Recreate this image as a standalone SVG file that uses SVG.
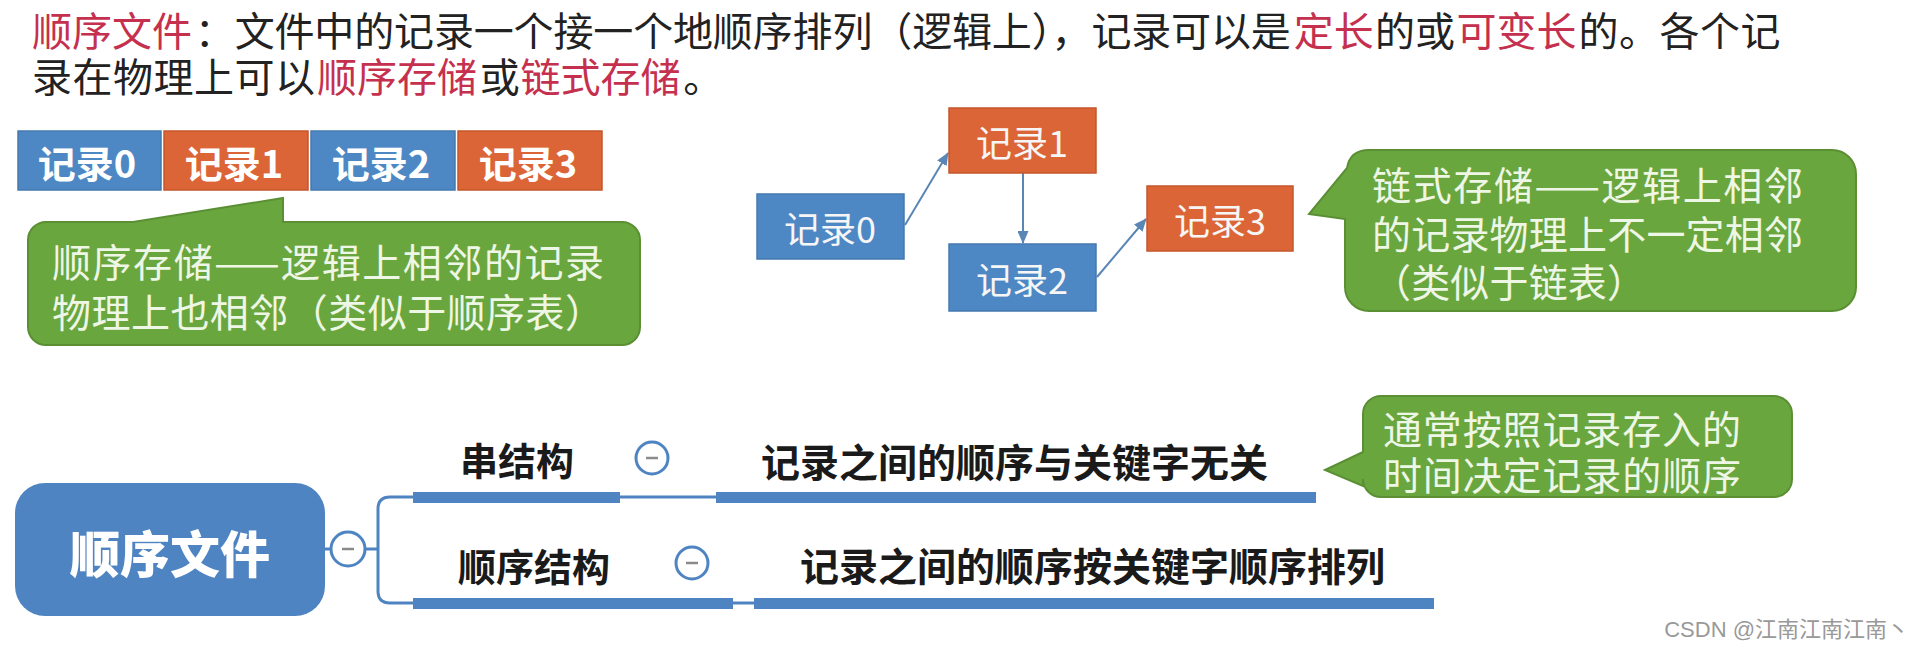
<svg xmlns="http://www.w3.org/2000/svg" width="1925" height="649" viewBox="0 0 1925 649">
<style>
text{font-family:"Noto Sans CJK SC","Noto Sans",sans-serif;dominant-baseline:central}
.hdr{font-size:40px;fill:#222}
.red{fill:#C5304E}
.rec{font-size:38px;font-weight:700;fill:#fff;text-anchor:middle}
.lrec{font-size:36px;fill:#f6f6f6;text-anchor:middle}
.blue{fill:#4E88C4;stroke:#4579AF;stroke-width:1.5}
.orange{fill:#DC6537;stroke:#C4572D;stroke-width:1.5}
.bubble{fill:#6AA63E;stroke:#5A8F33;stroke-width:2}
.btxt{font-size:39px;fill:#EEF6E6}
.mm{fill:none;stroke:#4F84C2;stroke-width:3}
.bar{fill:#4F84C2}
.tog{fill:#fff;stroke:#4F84C2;stroke-width:3}
.minus{stroke:#8a8a8a;stroke-width:2.5}
.topic{font-size:38px;font-weight:700;fill:#1a1a1a}
.arr{fill:none;stroke:#5A86B5;stroke-width:2}
</style>
<defs>
<marker id="ah" markerWidth="13" markerHeight="11" refX="12" refY="5.5" orient="auto" markerUnits="userSpaceOnUse">
<path d="M0,0 L13,5.5 L0,11 Z" fill="#5A86B5"/>
</marker>
</defs>

<g id="header">
<text class="hdr red" x="32" y="29" textLength="160" lengthAdjust="spacing">顺序文件</text>
<text class="hdr" x="194.8" y="29" textLength="1096" lengthAdjust="spacing">：文件中的记录一个接一个地顺序排列（逻辑上），记录可以是</text>
<text class="hdr red" x="1293.7" y="29" textLength="80" lengthAdjust="spacing">定长</text>
<text class="hdr" x="1375.1" y="29" textLength="80" lengthAdjust="spacing">的或</text>
<text class="hdr red" x="1456.5" y="29" textLength="120" lengthAdjust="spacing">可变长</text>
<text class="hdr" x="1578.6" y="29" textLength="202" lengthAdjust="spacing">的。各个记</text>
<text class="hdr" x="32" y="75" textLength="283" lengthAdjust="spacing">录在物理上可以</text>
<text class="hdr red" x="316.9" y="75" textLength="160" lengthAdjust="spacing">顺序存储</text>
<text class="hdr" x="479.7" y="75">或</text>
<text class="hdr red" x="520.4" y="75" textLength="160" lengthAdjust="spacing">链式存储</text>
<text class="hdr" x="683.2" y="75">。</text>
</g>

<g id="seq-records">
<g id="seq-rec0"><rect class="blue" x="18" y="131" width="143" height="59"/><text class="rec" x="87" y="161">记录0</text></g>
<g id="seq-rec1"><rect class="orange" x="164" y="131" width="144" height="59"/><text class="rec" x="234" y="161">记录1</text></g>
<g id="seq-rec2"><rect class="blue" x="311" y="131" width="144" height="59"/><text class="rec" x="381" y="161">记录2</text></g>
<g id="seq-rec3"><rect class="orange" x="458" y="131" width="144" height="59"/><text class="rec" x="528" y="161">记录3</text></g>
</g>

<g id="seq-note">
<path class="bubble" d="M46 222 L133 222 L283 198 L283 222 L622 222 A18 18 0 0 1 640 240 L640 327 A18 18 0 0 1 622 345 L46 345 A18 18 0 0 1 28 327 L28 240 A18 18 0 0 1 46 222 Z"/>
<text class="btxt" x="52" y="260" textLength="552" lengthAdjust="spacing">顺序存储——逻辑上相邻的记录</text>
<text class="btxt" x="52" y="310" textLength="552" lengthAdjust="spacing">物理上也相邻（类似于顺序表）</text>
</g>

<g id="connectors">
<path class="arr" d="M905 225 L948 153" marker-end="url(#ah)"/>
<path class="arr" d="M1023 173 L1023 243" marker-end="url(#ah)"/>
<path class="arr" d="M1097 277 L1146 219" marker-end="url(#ah)"/>
<path class="mm" d="M325 549 H378"/>
<path class="mm" d="M378 549 V509 Q378 497 390 497 H1316"/>
<path class="mm" d="M378 549 V591 Q378 603 390 603 H1434"/>
</g>

<g id="link-rec0"><rect class="blue" x="757" y="194" width="147" height="65"/><text class="lrec" x="830" y="227">记录0</text></g>
<g id="link-rec1"><rect class="orange" x="949" y="108" width="147" height="65"/><text class="lrec" x="1022" y="141">记录1</text></g>
<g id="link-rec2"><rect class="blue" x="949" y="244" width="147" height="67"/><text class="lrec" x="1022" y="278">记录2</text></g>
<g id="link-rec3"><rect class="orange" x="1147" y="186" width="146" height="65"/><text class="lrec" x="1220" y="219">记录3</text></g>

<g id="link-note">
<path class="bubble" d="M1369 150 L1832 150 A24 24 0 0 1 1856 174 L1856 287 A24 24 0 0 1 1832 311 L1369 311 A24 24 0 0 1 1345 287 L1345 219 L1309 214 L1347 168 Q1350 150 1369 150 Z"/>
<text class="btxt" x="1372" y="183" textLength="431" lengthAdjust="spacing">链式存储——逻辑上相邻</text>
<text class="btxt" x="1372" y="232" textLength="431" lengthAdjust="spacing">的记录物理上不一定相邻</text>
<text class="btxt" x="1372" y="280" textLength="274" lengthAdjust="spacing">（类似于链表）</text>
</g>

<g id="root">
<rect x="15" y="483" width="310" height="133" rx="30" fill="#4F84C2"/>
<text x="170" y="551" style="font-size:50px;font-weight:900;fill:#fff;text-anchor:middle">顺序文件</text>
<circle class="tog" cx="348" cy="549" r="17"/><line class="minus" x1="342" y1="549" x2="354" y2="549"/>
</g>

<g id="topic-chuan">
<rect class="bar" x="413" y="492" width="207" height="11"/>
<text class="topic" x="460" y="458">串结构</text>
<circle class="tog" cx="652" cy="458" r="16"/><line class="minus" x1="646" y1="458" x2="658" y2="458"/>
</g>
<g id="topic-chuan-desc">
<rect class="bar" x="716" y="492" width="600" height="11"/>
<text class="topic" x="761" y="460" style="font-size:39px">记录之间的顺序与关键字无关</text>
</g>

<g id="topic-shunxu">
<rect class="bar" x="413" y="598" width="320" height="11"/>
<text class="topic" x="458" y="564">顺序结构</text>
<circle class="tog" cx="692" cy="563" r="16"/><line class="minus" x1="686" y1="563" x2="698" y2="563"/>
</g>
<g id="topic-shunxu-desc">
<rect class="bar" x="754" y="598" width="680" height="11"/>
<text class="topic" x="800" y="564" style="font-size:39px">记录之间的顺序按关键字顺序排列</text>
</g>

<g id="time-note">
<path class="bubble" d="M1381 396 L1774 396 A18 18 0 0 1 1792 414 L1792 479 A18 18 0 0 1 1774 497 L1381 497 A18 18 0 0 1 1363 479 L1363 486 L1325 470 L1363 452 L1363 414 A18 18 0 0 1 1381 396 Z"/>
<text class="btxt" x="1383" y="427" textLength="358" lengthAdjust="spacing">通常按照记录存入的</text>
<text class="btxt" x="1383" y="473" textLength="358" lengthAdjust="spacing">时间决定记录的顺序</text>
</g>

<g id="watermark">
<text x="1909" y="629" style="font-family:'Liberation Sans','Noto Sans CJK SC',sans-serif;font-size:22px;fill:#999;text-anchor:end">CSDN @江南江南江南丶</text>
</g>
</svg>
